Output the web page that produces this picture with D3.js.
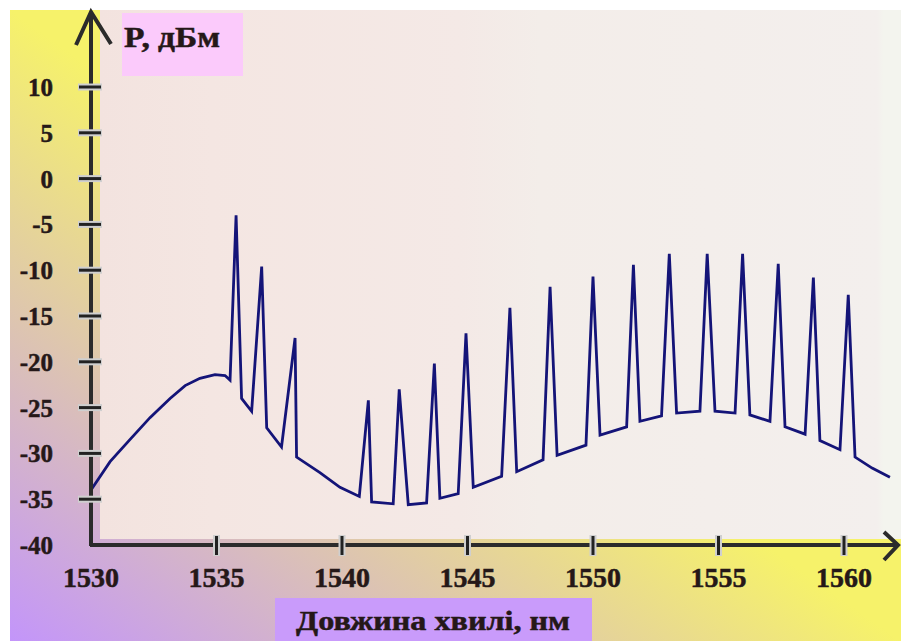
<!DOCTYPE html>
<html>
<head>
<meta charset="utf-8">
<script src="https://cdn.jsdelivr.net/npm/d3@7"></script>
<style>
  body { margin: 0; padding: 0; background: #fff; }
  svg { display: block; }
  .lbl { font-family: "Liberation Serif", "Times New Roman", serif; font-weight: bold;
         fill: #251818; stroke: #251818; stroke-width: 0.5px; }
</style>
</head>
<body>
<div id="chart_div"></div>
<script>
// Data: wavelength (nm) and power (dBm) of the trace
var trace_wl = [1530.0, 1530.76, 1531.55, 1532.35, 1533.15, 1533.75, 1534.34, 1534.94, 1535.34, 1535.54,
                1535.78, 1536.0, 1536.4, 1536.8, 1537.0, 1537.59, 1538.13, 1538.19, 1539.12, 1539.92,
                1540.69, 1541.05, 1541.18, 1542.04, 1542.28, 1542.64, 1543.37, 1543.68, 1543.9, 1544.63,
                1544.94, 1545.23, 1546.36, 1546.69, 1546.96, 1548.01, 1548.29, 1548.57, 1549.72, 1550.0,
                1550.28, 1551.34, 1551.61, 1551.87, 1552.73, 1553.04, 1553.33, 1554.26, 1554.55, 1554.86,
                1555.66, 1555.96, 1556.25, 1557.05, 1557.38, 1557.65, 1558.45, 1558.78, 1559.04, 1559.84,
                1560.17, 1560.44, 1561.12, 1561.83];
var trace_db = [-34.0, -30.9, -28.5, -26.1, -24.0, -22.6, -21.8, -21.4, -21.5, -22.0,
                -4.0, -24.0, -25.4, -9.6, -27.2, -29.3, -17.4, -30.4, -32.1, -33.7,
                -34.7, -24.2, -35.3, -35.5, -23.0, -35.6, -35.4, -20.2, -34.9, -34.4,
                -16.9, -33.7, -32.5, -14.1, -32.0, -30.7, -11.8, -30.2, -29.1, -10.7,
                -28.0, -27.1, -9.4, -26.5, -25.9, -8.2, -25.6, -25.4, -8.2, -25.4,
                -25.6, -8.2, -25.8, -26.5, -9.3, -27.1, -27.9, -10.8, -28.6, -29.6,
                -12.7, -30.4, -31.6, -32.6];

var x_ticks = [1530, 1535, 1540, 1545, 1550, 1555, 1560];
var y_ticks = [10, 5, 0, -5, -10, -15, -20, -25, -30, -35, -40];
var y_title = "P, дБм";
var x_title = "Довжина хвилі, нм";

var width = 901,
    height = 641;

var x = d3.scaleLinear().domain([1530, 1560]).range([91, 844]);
var y = d3.scaleLinear().domain([-40, 10]).range([545, 87]);

var svg = d3.select("#chart_div")
    .append("svg")
    .attr("width", width)
    .attr("height", height);

var defs = svg.append("defs");

// outer frame: yellow at top-left and bottom-right, purple at bottom-left
var frame_grad = defs.append("linearGradient")
    .attr("id", "frame_grad")
    .attr("x1", 0).attr("y1", 1)
    .attr("x2", 1).attr("y2", 0);
frame_grad.append("stop").attr("offset", 0).attr("stop-color", "#c395fa");
frame_grad.append("stop").attr("offset", 0.5).attr("stop-color", "#f6f26a");
frame_grad.append("stop").attr("offset", 1).attr("stop-color", "#f6f26a");

// plot panel: faint vertical bands from pink to grey
var panel_grad = defs.append("linearGradient")
    .attr("id", "panel_grad")
    .attr("x1", 0).attr("y1", 0)
    .attr("x2", 1).attr("y2", 0);
[[0, "#f3e3df"], [0.14, "#f4e6e2"], [0.45, "#f4e9e6"], [0.55, "#f3ede9"],
 [0.97, "#f3efed"], [0.978, "#f3f4ee"], [1, "#f3f4ee"]].forEach(function(s) {
    panel_grad.append("stop").attr("offset", s[0]).attr("stop-color", s[1]);
});

svg.append("rect")
    .attr("width", width).attr("height", height)
    .attr("fill", "#ffffff");

svg.append("rect")
    .attr("x", 10).attr("y", 10)
    .attr("width", width - 10).attr("height", height - 10)
    .attr("fill", "url(#frame_grad)");

svg.append("rect")
    .attr("x", 100).attr("y", 10)
    .attr("width", width - 100).attr("height", y(-40) - 16)
    .attr("fill", "url(#panel_grad)");

// title boxes
svg.append("rect")
    .attr("x", 122).attr("y", 13)
    .attr("width", 121).attr("height", 63)
    .attr("fill", "#fbcafb");

svg.append("rect")
    .attr("x", 275).attr("y", 598)
    .attr("width", 317).attr("height", 43)
    .attr("fill", "#c99bfb");

svg.append("text")
    .attr("class", "lbl")
    .attr("x", 124).attr("y", 47)
    .attr("textLength", 96)
    .attr("lengthAdjust", "spacingAndGlyphs")
    .style("font-size", "29px")
    .text(y_title);

svg.append("text")
    .attr("class", "lbl")
    .attr("x", 296).attr("y", 630)
    .attr("textLength", 274)
    .attr("lengthAdjust", "spacingAndGlyphs")
    .style("font-size", "28px")
    .text(x_title);

// the trace
var line = d3.line()
    .x(function(d, i) { return x(trace_wl[i]); })
    .y(function(d) { return y(d); });

svg.append("path")
    .datum(trace_db)
    .attr("d", line)
    .attr("fill", "none")
    .attr("stroke", "#141478")
    .attr("stroke-width", 2.8)
    .attr("stroke-linejoin", "miter")
    .attr("stroke-miterlimit", 10);

// axes
var ax = svg.append("g");
var x0 = x(1530), y0 = y(-40);

ax.append("line")
    .attr("x1", x0).attr("y1", y0 + 1)
    .attr("x2", x0).attr("y2", 14)
    .attr("stroke", "#2b2b2b").attr("stroke-width", 4);
ax.append("line")
    .attr("x1", x0 - 1).attr("y1", y0)
    .attr("x2", 897).attr("y2", y0)
    .attr("stroke", "#2b2b2b").attr("stroke-width", 4);

ax.append("path")
    .attr("d", "M" + (x0 - 15) + ",45L" + x0 + ",12L" + (x0 + 20) + ",44")
    .attr("fill", "none").attr("stroke", "#2b2b2b").attr("stroke-width", 4);
ax.append("path")
    .attr("d", "M884," + (y0 - 13) + "L898," + y0 + "L884," + (y0 + 15))
    .attr("fill", "none").attr("stroke", "#2b2b2b").attr("stroke-width", 4);

// y ticks cross the axis, with a light halo
var yt = ax.selectAll(".ytick")
    .data(y_ticks.filter(function(d) { return d > -40; }))
    .enter().append("g")
    .attr("class", "ytick");
yt.append("line")
    .attr("x1", x0 - 13).attr("x2", x0 + 11)
    .attr("y1", function(d) { return y(d); })
    .attr("y2", function(d) { return y(d); })
    .attr("stroke", "#cfcfcf").attr("stroke-width", 7);
yt.append("line")
    .attr("x1", x0 - 12).attr("x2", x0 + 10)
    .attr("y1", function(d) { return y(d); })
    .attr("y2", function(d) { return y(d); })
    .attr("stroke", "#222").attr("stroke-width", 3);

ax.selectAll(".ylab")
    .data(y_ticks)
    .enter().append("text")
    .attr("class", "lbl")
    .attr("x", 53)
    .attr("y", function(d) { return y(d) + 9; })
    .attr("text-anchor", "end")
    .style("font-size", "25px")
    .text(function(d) { return d; });

var xt = ax.selectAll(".xtick")
    .data(x_ticks.filter(function(d) { return d > 1530; }))
    .enter().append("g")
    .attr("class", "xtick");
xt.append("line")
    .attr("x1", function(d) { return x(d); })
    .attr("x2", function(d) { return x(d); })
    .attr("y1", y0 - 10).attr("y2", y0 + 11)
    .attr("stroke", "#cfcfcf").attr("stroke-width", 7);
xt.append("line")
    .attr("x1", function(d) { return x(d); })
    .attr("x2", function(d) { return x(d); })
    .attr("y1", y0 - 9).attr("y2", y0 + 10)
    .attr("stroke", "#222").attr("stroke-width", 3);

ax.selectAll(".xlab")
    .data(x_ticks)
    .enter().append("text")
    .attr("class", "lbl")
    .attr("x", function(d) { return x(d); })
    .attr("y", 587)
    .attr("text-anchor", "middle")
    .style("font-size", "28px")
    .text(function(d) { return d; });
</script>
</body>
</html>
